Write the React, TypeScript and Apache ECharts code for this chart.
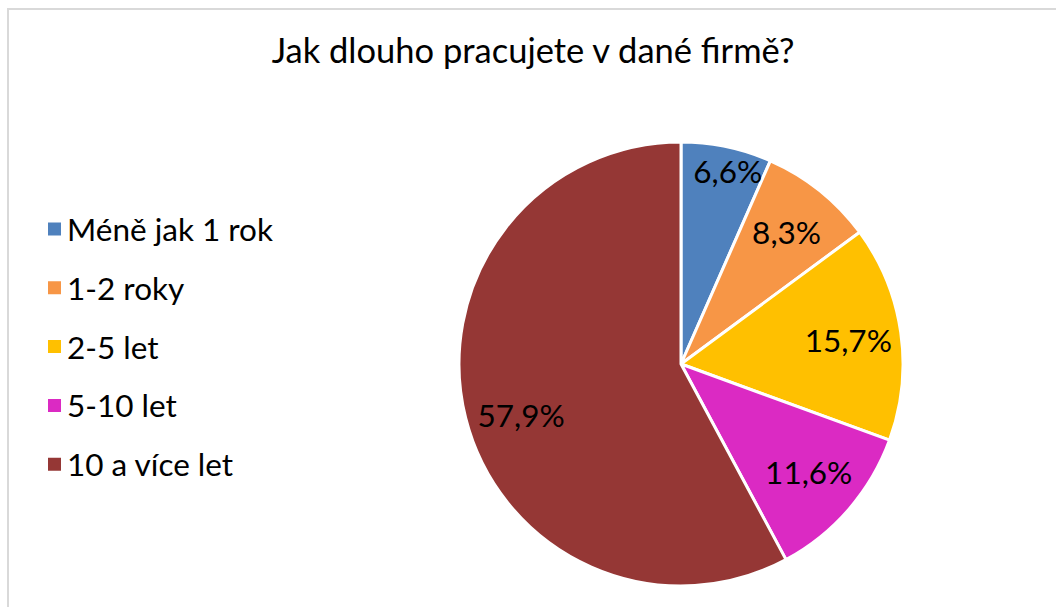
import React, { useEffect, useRef } from "react";
import * as echarts from "echarts";

const categories = ["Méně jak 1 rok", "1-2 roky", "2-5 let", "5-10 let", "10 a více let"];
const values = [6.6, 8.3, 15.7, 11.6, 57.9];
const colors = ["#4F81BD", "#F79646", "#FFC000", "#DB2AC3", "#953735"];
const title = "Jak dlouho pracujete v dané firmě?";

const FONT = "Lato";

export default function App() {
  const ref = useRef<HTMLDivElement>(null);
  useEffect(() => {
    if (!ref.current) return;
    const chart = echarts.init(ref.current, undefined, { renderer: "svg" });
    const data = categories.map((name, i) => ({ name, value: values[i], itemStyle: { color: colors[i] } }));
    chart.setOption({
      animation: false,
      backgroundColor: "#FFFFFF",
      title: {
        text: title,
        left: 528,
        textAlign: "center",
        top: 27,
        textStyle: { fontFamily: FONT, fontSize: 34.5, fontWeight: "normal", color: "#000000" },
      },
      legend: {
        orient: "vertical",
        left: 41,
        top: 208,
        data: categories,
        icon: "rect",
        itemWidth: 15,
        itemHeight: 15,
        itemGap: 26.8,
        textStyle: { fontFamily: FONT, fontSize: 31.5, color: "#000000", lineHeight: 31 },
        selectedMode: false,
      },
      graphic: [
        {
          type: "rect",
          shape: { x: 8, y: 9, width: 1200, height: 800 },
          style: { fill: "none", stroke: "#D9D9D9", lineWidth: 2 },
          silent: true,
        },
      ],
      series: [
        {
          type: "pie",
          center: [681, 364],
          radius: [0, 222],
          startAngle: 90,
          clockwise: true,
          data,
          label: { show: false },
          labelLine: { show: false },
          itemStyle: { borderColor: "#FFFFFF", borderWidth: 3 },
          emphasis: { disabled: true },
        },
        {
          type: "pie",
          center: [681, 364],
          radius: [110, 222],
          startAngle: 90,
          clockwise: true,
          silent: true,
          data: categories.map((name, i) => ({ name, value: values[i] })),
          itemStyle: { color: "rgba(0,0,0,0)", borderWidth: 0 },
          label: {
            show: true,
            position: "inside",
            formatter: (p: any) => p.value.toFixed(1).replace(".", ",") + "%",
            fontFamily: FONT,
            fontSize: 31.5,
            color: "#000000",
          },
          labelLayout: (p: any) =>
            p.dataIndex === 0 ? { dx: 12, dy: -28 } : p.dataIndex === 4 ? { dy: 10, dx: 4 } : p.dataIndex === 3 ? { dy: -3 } : {},
          labelLine: { show: false },
          emphasis: { disabled: true },
        },
      ],
    });
    return () => chart.dispose();
  }, []);
  return (
    <div
      ref={ref}
      style={{ position: "fixed", left: 0, top: 0, width: 1056, height: 607 }}
    />
  );
}
